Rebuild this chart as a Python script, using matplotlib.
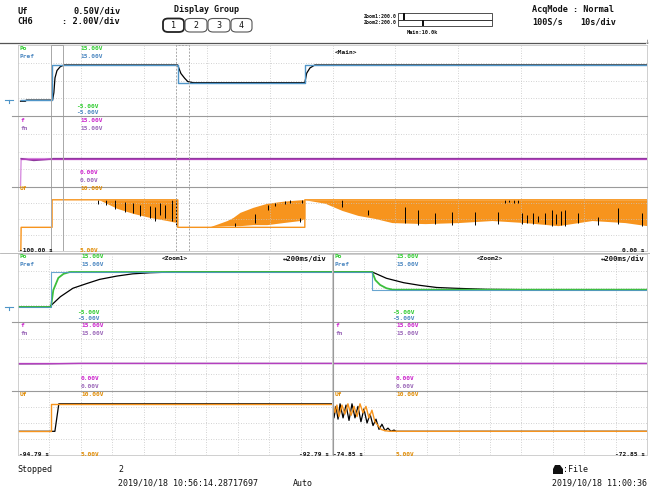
import matplotlib
matplotlib.use('Agg')
import matplotlib.pyplot as plt
import numpy as np
from matplotlib.patches import Rectangle, FancyBboxPatch, Polygon
from matplotlib.lines import Line2D

# ---------------- data (seconds / volts) ----------------
main_range = (-100.0, 0.0)
zoom1_range = (-94.79, -92.79)
zoom2_range = (-74.85, -72.85)

# Pref (blue) step signal
pref_t = [-99.6, -94.58, -94.58, -74.60, -74.60, -54.40, -54.40, 0.0]
pref_v = [0.0, 0.0, 9.5, 9.5, 4.7, 4.7, 9.5, 9.5]

# black response in main view
po_main_t = [-99.6, -98.8, -98.7, -94.50, -94.30, -94.12, -93.80, -93.30, -92.70,
             -74.62, -74.10, -73.50, -73.00, -72.10, -54.40, -54.10, -53.58, -52.80, 0.0]
po_main_v = [-0.3, -0.3, 0.0, 0.0, 2.0, 6.0, 8.0, 9.0, 9.5,
             9.5, 7.2, 5.9, 5.0, 4.7, 4.7, 7.3, 8.7, 9.5, 9.5]

# zoom1 Po (green) and black response
po_z1_t = [-94.79, -94.58, -94.565, -94.533, -94.50, -94.46, -92.79]
po_z1_v = [0.0, 0.0, 4.6, 7.9, 9.0, 9.5, 9.5]
blk_z1_t = [-94.79, -94.59, -94.52, -94.44, -94.35, -94.27, -94.16, -94.06, -93.95, -93.80, -92.79]
blk_z1_v = [0.0, 0.0, 2.8, 5.1, 6.4, 7.5, 8.4, 9.0, 9.3, 9.5, 9.5]

# zoom2 Po (green) and black response
po_z2_t = [-74.85, -74.60, -74.58, -74.55, -74.51, -74.47, -72.85]
po_z2_v = [9.5, 9.5, 7.3, 6.0, 5.1, 4.7, 4.7]
blk_z2_t = [-74.85, -74.60, -74.51, -74.40, -74.30, -74.19, -74.08, -73.87, -73.60, -72.85]
blk_z2_v = [9.5, 9.5, 7.8, 6.6, 5.9, 5.3, 5.1, 4.8, 4.7, 4.7]

# f / fn
f_t = [-99.6, -99.5, 0.0]
f_v = [0.3, 6.0, 6.0]
fn_t = [-99.5, -98.5, -97.5, -96.5, -95.5, -94.6, -94.4, 0.0]
fn_v = [6.0, 5.8, 5.6, 5.7, 5.8, 5.9, 6.0, 6.0]

# Uf flat levels (orange)
uf_t = [-99.55, -99.5, -94.58, -94.58, -74.60, -74.60, -54.40, -54.40, 0.0]
uf_v = [5.0, 6.85, 6.85, 9.0, 9.0, 6.85, 6.85, 9.0, 9.0]

# Uf noise envelopes in main view
band1_t = [-87.44, -86.96, -84.26, -81.72, -79.01, -76.31, -74.72, -74.62]
band1_lo = [9.0, 8.97, 8.33, 7.94, 7.62, 7.38, 7.22, 7.10]
band1_hi = [9.0, 9.0, 9.0, 9.0, 9.0, 9.0, 9.0, 9.0]
band2_t = [-69.48, -66.77, -65.82, -64.71, -62.64, -60.41, -57.87, -55.17, -54.40]
band2_lo = [6.90, 6.98, 6.98, 6.98, 7.06, 7.06, 7.22, 7.38, 7.54]
band2_hi = [6.90, 7.38, 7.62, 8.02, 8.41, 8.73, 8.89, 9.0, 9.0]
band3_t = [-54.40, -51.19, -48.49, -45.95, -43.24, -40.54, -35.29, -30.05, -24.64,
           -19.40, -14.15, -8.74, -3.50, 0.0]
band3_lo = [9.0, 8.73, 8.17, 7.78, 7.54, 7.22, 7.14, 7.22, 7.38, 7.22, 6.98, 7.38, 7.22, 6.98]
band3_hi = [9.0] * 14

# black spikes in Uf (main view)
spk_t = [-87.28, -86.01, -84.58, -82.99, -81.72, -80.60, -79.01, -78.22, -77.42, -76.63,
         -75.52, -74.88, -65.50, -62.32, -60.25, -59.14, -57.55, -56.76, -55.17, -54.85,
         -48.49, -44.36, -38.47, -36.41, -33.70, -31.00, -27.34, -23.69, -22.58, -21.9,
         -21.2, -20.51, -19.87, -19.0, -18.2, -17.4, -16.22, -15.1, -14.4, -13.7, -13.0,
         -10.97, -7.79, -4.61, -0.80]
spk_lo = [8.65, 8.57, 8.25, 8.02, 7.94, 7.70, 7.54, 7.38, 7.78, 7.54,
          7.38, 7.06, 6.90, 7.22, 8.17, 8.49, 8.65, 8.73, 7.30, 8.73,
          8.41, 7.78, 7.22, 7.06, 7.14, 7.06, 7.06, 7.14, 8.73, 8.80,
          8.75, 8.73, 7.14, 7.20, 7.14, 7.30, 7.14, 6.98, 7.10, 7.00, 6.98,
          7.22, 7.06, 7.14, 6.98]
spk_hi = [9.0, 9.0, 8.97, 8.81, 8.73, 8.57, 8.49, 8.41, 8.73, 8.57,
          8.97, 9.0, 7.22, 7.86, 8.57, 8.73, 8.89, 8.97, 7.54, 9.0,
          8.97, 8.17, 8.41, 8.17, 7.94, 8.02, 8.02, 8.02, 9.0, 9.0,
          9.0, 9.0, 7.94, 7.80, 7.94, 7.70, 7.94, 8.17, 7.90, 8.10, 8.17,
          7.94, 7.62, 8.33, 7.94]

# zoom1 Uf black
uf_blk_z1_t = [-94.79, -94.555, -94.53, -92.79]
uf_blk_z1_v = [6.85, 6.85, 9.0, 9.0]

# zoom2 Uf oscillation
uf_z2_t = [-74.850, -74.837, -74.825, -74.812, -74.793, -74.774, -74.755, -74.735, -74.716,
           -74.697, -74.678, -74.659, -74.640, -74.621, -74.602, -74.583, -74.563, -74.544,
           -74.519, -74.487, -72.85]
uf_z2_v = [9.0, 8.3, 8.9, 8.0, 8.9, 8.2, 9.0, 8.1, 8.8,
           8.0, 9.0, 8.3, 8.8, 7.9, 8.5, 7.6, 7.3, 7.0,
           6.9, 6.85, 6.85]
uf_blk_z2_t = [-74.850, -74.844, -74.831, -74.818, -74.805, -74.786, -74.767, -74.748, -74.729,
               -74.710, -74.691, -74.672, -74.653, -74.633, -74.614, -74.595, -74.576, -74.557,
               -74.538, -74.519, -74.500, -74.481, -74.461, -74.449, -72.85]
uf_blk_z2_v = [9.0, 7.9, 8.8, 7.8, 9.0, 7.9, 8.9, 7.7, 9.0,
               7.9, 8.8, 7.6, 8.6, 7.5, 8.2, 7.3, 7.8, 7.0,
               7.4, 6.9, 7.1, 6.85, 6.95, 6.85, 6.85]

# ---------------- styling ----------------
W, H = 650, 492
MONO = 'DejaVu Sans Mono'
C_GREEN = '#2ecc2e'
C_GREEN_L = '#3cbf3c'
C_BLUE = '#4f95c8'
C_BLUE_T = '#4a86c0'
C_MAG = '#cc22cc'
C_PURP = '#9a66b8'
C_FLINE = '#b53fbf'
C_ORANGE = '#f7941d'
C_ORANGE_T = '#e08a00'
C_GRID = '#c4c4c4'
C_SEP = '#9a9a9a'

fig = plt.figure(figsize=(W / 100, H / 100), dpi=100)
fig.patch.set_facecolor('white')


def fx(x):
    return x / W


def fy(y):
    return 1 - y / H


def add_ax(x0, y0, x1, y1, xlim, ylim, nx=10, ny=4):
    ax = fig.add_axes([fx(x0), fy(y1), (x1 - x0) / W, (y1 - y0) / H])
    ax.set_xlim(*xlim)
    ax.set_ylim(*ylim)
    ax.set_xticks(np.linspace(xlim[0], xlim[1], nx + 1)[1:-1])
    ax.set_yticks(np.linspace(ylim[0], ylim[1], ny + 1)[1:-1])
    ax.tick_params(length=0, labelbottom=False, labelleft=False)
    ax.grid(True, color=C_GRID, lw=0.6, ls=(0, (1, 2)))
    for s in ax.spines.values():
        s.set_color('#c8c8c8')
        s.set_linewidth(0.6)
    ax.set_facecolor('white')
    return ax


def T(x, y, s, color='#111111', size=4.4, ha='left', weight='bold'):
    fig.text(fx(x), fy(y), s, color=color, fontsize=size, ha=ha, va='center',
             family=MONO, weight=weight)


def L(x0, y0, x1, y1, color=C_SEP, lw=0.8, ls='-'):
    fig.add_artist(Line2D([fx(x0), fx(x1)], [fy(y0), fy(y1)], transform=fig.transFigure,
                          color=color, lw=lw, ls=ls))


# ---------------- main view ----------------
MX0, MX1 = 18, 647
m_po = add_ax(MX0, 45, MX1, 116, main_range, (-4.3, 14.9))
m_f = add_ax(MX0, 116, MX1, 187, main_range, (0, 15))
m_uf = add_ax(MX0, 187, MX1, 251, main_range, (5, 10))

m_po.plot(po_main_t, po_main_v, color='black', lw=0.9)
m_po.plot(pref_t, pref_v, color=C_BLUE, lw=1.0)

m_f.plot(f_t, f_v, color='#d890e0', lw=1.0)
m_f.plot(fn_t, fn_v, color='#8a3a9a', lw=1.0)
m_f.plot(f_t[1:], f_v[1:], color=C_FLINE, lw=0.9)

for bt, blo, bhi in [(band1_t, band1_lo, band1_hi), (band2_t, band2_lo, band2_hi),
                     (band3_t, band3_lo, band3_hi)]:
    m_uf.fill_between(bt, blo, bhi, color=C_ORANGE, lw=0)
m_uf.vlines(spk_t, spk_lo, spk_hi, color='black', lw=0.7)
m_uf.plot(uf_t, uf_v, color=C_ORANGE, lw=1.0)

# zoom windows marked in main view
ov = fig.add_axes([fx(MX0), fy(251), (MX1 - MX0) / W, (251 - 45) / H])
ov.set_xlim(*main_range)
ov.set_ylim(0, 1)
ov.axis('off')
ov.add_patch(Rectangle((zoom1_range[0], 0.0), zoom1_range[1] - zoom1_range[0], 1.0,
                       fill=False, ec='#a8a8a8', lw=0.7))
ov.add_patch(Rectangle((zoom2_range[0], 0.0), zoom2_range[1] - zoom2_range[0], 1.0,
                       fill=False, ec='#a8a8a8', lw=0.7, ls=(0, (2, 1.5))))

# ---------------- zoom views ----------------
ZY = [254, 322, 391, 455]
zooms = [(18, 332, zoom1_range), (333, 647, zoom2_range)]
zax = []
for (x0, x1, rng) in zooms:
    a_po = add_ax(x0, ZY[0], x1, ZY[1], rng, (-4.07, 14.39))
    a_f = add_ax(x0, ZY[1], x1, ZY[2], rng, (0, 15))
    a_uf = add_ax(x0, ZY[2], x1, ZY[3], rng, (5, 10))
    zax.append((a_po, a_f, a_uf))

(z1_po, z1_f, z1_uf), (z2_po, z2_f, z2_uf) = zax

for a, bt, bv, gt, gv in ((z1_po, blk_z1_t, blk_z1_v, po_z1_t, po_z1_v),
                          (z2_po, blk_z2_t, blk_z2_v, po_z2_t, po_z2_v)):
    a.plot(bt, bv, color='black', lw=0.9)
    a.plot(gt, gv, color=C_GREEN_L, lw=1.3)
    a.plot(pref_t, pref_v, color=C_BLUE, lw=0.8, alpha=0.85)

for a in (z1_f, z2_f):
    a.plot(fn_t, fn_v, color='#8a3a9a', lw=1.0)
    a.plot(f_t[1:], f_v[1:], color=C_FLINE, lw=0.9)

z1_uf.plot(uf_blk_z1_t, uf_blk_z1_v, color='black', lw=0.9)
z1_uf.plot(uf_t, uf_v, color=C_ORANGE, lw=1.0)
z2_uf.plot(uf_blk_z2_t, uf_blk_z2_v, color='black', lw=0.9)
z2_uf.plot(uf_z2_t, uf_z2_v, color=C_ORANGE, lw=1.0)

# separators
L(0, 43, 645, 43, color='#555555', lw=0.9)
for yy in (116, 187):
    L(12, yy, MX1, yy)
L(0, 252.5, 650, 252.5, color='#b0b0b0', lw=0.6)
for yy in (322, 391):
    L(12, yy, MX1, yy)
L(332.5, 254, 332.5, 455, color=C_SEP, lw=0.8)

# ground / trigger markers
T(647, 41, '\u2193', color='#777777', size=6, ha='center', weight='normal')
for yy in (100, 307):
    L(5, yy, 13, yy, color=C_BLUE, lw=0.8)
    L(9, yy, 9, yy + 3, color=C_BLUE, lw=0.8)

# ---------------- header ----------------
T(17, 11, 'Uf', size=6.2)
T(17, 21, 'CH6', size=6.2)
T(73, 11, '0.50V/div', size=6.2)
T(62, 21, ': 2.00V/div', size=6.2)
T(207, 10, 'Display Group', size=6, ha='center')
for i, (bx0, bx1) in enumerate([(163, 184), (185, 207), (208, 230), (231, 252)]):
    fig.add_artist(FancyBboxPatch((fx(bx0), fy(32)), (bx1 - bx0) / W, 13.5 / H,
                                  boxstyle='round,pad=0,rounding_size=0.008',
                                  transform=fig.transFigure, fill=False,
                                  ec='#222222' if i == 0 else '#555555',
                                  lw=1.3 if i == 0 else 0.8))
    T((bx0 + bx1) / 2, 25.5, str(i + 1), size=6, ha='center', weight='normal')

T(397, 16, 'Zoom1:200.0', size=3.6, ha='right')
T(397, 22.5, 'Zoom2:200.0', size=3.6, ha='right')
fig.add_artist(Rectangle((fx(398), fy(19.5)), 94 / W, 6 / H, transform=fig.transFigure,
                         fill=False, ec='#333333', lw=0.6))
fig.add_artist(Rectangle((fx(398), fy(26)), 94 / W, 6 / H, transform=fig.transFigure,
                         fill=False, ec='#333333', lw=0.6))
for zr, yb in ((zoom1_range, 19.5), (zoom2_range, 26)):
    px = 398 + (zr[0] - main_range[0]) / (main_range[1] - main_range[0]) * 94
    fig.add_artist(Rectangle((fx(px), fy(yb)), 2 / W, 6 / H, transform=fig.transFigure,
                             fc='#111111', ec='none'))
T(422, 32, 'Main:10.0k', size=3.8, ha='center')

T(532, 10, 'AcqMode : Normal', size=6.1)
T(532, 22, '100S/s', size=6.1)
T(580, 22, '10s/div', size=6.1)

# ---------------- channel labels ----------------
def zone_labels(x_name, x_val, y_top, y_neg, y_f, y_zero, y_uf, y_bot):
    T(x_name, y_top, 'Po', color=C_GREEN)
    T(x_name, y_top + 8, 'Pref', color=C_BLUE_T)
    T(x_val, y_top, '15.00V', color=C_GREEN)
    T(x_val, y_top + 8, '15.00V', color=C_BLUE_T)
    T(x_val - 4, y_neg, '-5.00V', color=C_GREEN)
    T(x_val - 4, y_neg + 7, '-5.00V', color=C_BLUE_T)
    T(x_name, y_f, 'f', color=C_MAG)
    T(x_name, y_f + 8, 'fn', color=C_PURP)
    T(x_val, y_f, '15.00V', color=C_MAG)
    T(x_val, y_f + 8, '15.00V', color=C_PURP)
    T(x_val, y_zero, '0.00V', color=C_MAG)
    T(x_val, y_zero + 8, '0.00V', color=C_PURP)
    T(x_name, y_uf, 'Uf', color=C_ORANGE_T)
    T(x_val, y_uf, '10.00V', color=C_ORANGE_T)
    T(x_val, y_bot, '5.00V', color=C_ORANGE_T)


zone_labels(20, 80, 49, 106, 120, 173, 188, 250)
zone_labels(20, 81, 256.5, 312, 325.5, 378, 394, 455)
zone_labels(335, 396, 256.5, 312, 325.5, 378, 394, 455)

T(335, 53, '<Main>')
T(175, 259, '<Zoom1>', ha='center')
T(490, 259, '<Zoom2>', ha='center')
T(327, 259, '\u2194200ms/div', size=5.2, ha='right')
T(645, 259, '\u2194200ms/div', size=5.2, ha='right')

T(19, 250, '-100.00 s', size=4.5)
T(645, 250, '0.00 s', size=4.5, ha='right')
T(19, 455, '-94.79 s', size=4.5)
T(329, 455, '-92.79 s', size=4.5, ha='right')
T(333, 455, '-74.85 s', size=4.5)
T(645, 455, '-72.85 s', size=4.5, ha='right')

# ---------------- footer ----------------
T(17, 470, 'Stopped', size=6, weight='normal')
T(118, 469, '2', size=6, weight='normal')
T(118, 483, '2019/10/18 10:56:14.28717697', size=6, weight='normal')
T(293, 483, 'Auto', size=6, weight='normal')
fig.add_artist(Polygon([[fx(553), fy(474)], [fx(563), fy(474)], [fx(563), fy(469)],
                        [fx(560), fy(465)], [fx(555), fy(465)], [fx(553), fy(469)]],
                       closed=True, transform=fig.transFigure, fc='#111111', ec='none'))
T(563, 470, ':File', size=6, weight='normal')
T(552, 483, '2019/10/18 11:00:36', size=6, weight='normal')

fig.savefig('out.png', dpi=100, facecolor='white')
